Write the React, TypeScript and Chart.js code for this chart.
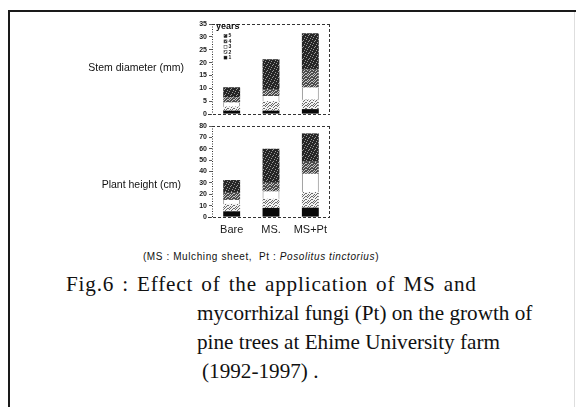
import React, { useEffect, useRef } from 'react';
import { Chart, registerables } from 'chart.js';

Chart.register(...registerables);

// ---------- data ----------
const categories = ['Bare', 'MS.', 'MS+Pt'];
const yearLabels = ['1', '2', '3', '4', '5'];
const legendTitle = 'years';

// Stem diameter (mm), yearly increments per treatment
const stemY1 = [1.3, 1.3, 1.9];
const stemY2 = [1.6, 3.7, 3.7];
const stemY3 = [1.6, 2.0, 4.7];
const stemY4 = [2.0, 2.7, 6.9];
const stemY5 = [3.9, 11.6, 14.2];
const stemTicks = [0, 5, 10, 15, 20, 25, 30, 35];

// Plant height (cm), yearly increments per treatment
const heightY1 = [5.0, 8.0, 8.2];
const heightY2 = [6.5, 8.0, 13.8];
const heightY3 = [3.5, 6.5, 16.0];
const heightY4 = [7.0, 7.5, 10.5];
const heightY5 = [10.5, 30.0, 25.0];
const heightTicks = [0, 10, 20, 30, 40, 50, 60, 70, 80];

const stemTitle = 'Stem diameter (mm)';
const heightTitle = 'Plant height (cm)';

// ---------- helpers ----------
function makePattern(bg: string, fg: string, size: number, dots: number[][]) {
  const c = document.createElement('canvas');
  c.width = size;
  c.height = size;
  const g = c.getContext('2d')!;
  g.fillStyle = bg;
  g.fillRect(0, 0, size, size);
  g.fillStyle = fg;
  dots.forEach(([x, y]) => g.fillRect(x, y, 1, 1));
  return g.createPattern(c, 'repeat')!;
}

// irregular stipple layouts (fixed, hand-placed)
const stippleSparse = [[0, 0], [3, 1], [5, 3], [1, 4], [4, 5], [2, 2]];
const stippleDense = [
  [0, 0], [2, 0], [5, 0], [1, 1], [4, 1], [3, 2], [0, 3], [5, 3], [2, 4], [4, 4], [1, 5], [3, 5],
];

function yearFills() {
  return [
    '#0a0a0a',
    makePattern('#f2f2f2', '#6a6a6a', 6, stippleDense),
    '#ffffff',
    makePattern('#4c4c4c', '#c4c4c4', 6, stippleDense),
    makePattern('#262626', '#9a9a9a', 6, stippleSparse),
  ];
}

const frameDash = {
  id: 'frameDash',
  afterDraw(chart: any) {
    const { ctx, chartArea: a } = chart;
    ctx.save();
    ctx.strokeStyle = '#333';
    ctx.lineWidth = 1;
    ctx.setLineDash([3, 2]);
    ctx.beginPath();
    ctx.moveTo(a.left, a.top + 0.5);
    ctx.lineTo(a.right, a.top + 0.5);
    ctx.moveTo(a.right - 0.5, a.top);
    ctx.lineTo(a.right - 0.5, a.bottom);
    ctx.moveTo(a.left - 4, a.bottom + 0.5);
    ctx.lineTo(a.right, a.bottom + 0.5);
    ctx.stroke();
    ctx.setLineDash([1, 1.5]);
    ctx.beginPath();
    ctx.moveTo(a.left + 0.5, a.top);
    ctx.lineTo(a.left + 0.5, a.bottom);
    ctx.stroke();
    ctx.restore();
  },
};

const yearsLegend = {
  id: 'yearsLegend',
  afterDraw(chart: any) {
    const { ctx, chartArea: a } = chart;
    const ds = chart.data.datasets;
    ctx.save();
    ctx.fillStyle = '#111';
    ctx.textBaseline = 'middle';
    ctx.font = 'bold 9px "Liberation Sans"';
    ctx.fillText(legendTitle, a.left + 4, a.top + 3);
    ctx.font = 'bold 5px "Liberation Sans"';
    for (let i = ds.length - 1, r = 0; i >= 0; i--, r++) {
      const y = a.top + 12 + r * 5.4;
      ctx.fillStyle = ds[i].backgroundColor;
      ctx.fillRect(a.left + 12, y - 1.5, 3, 3);
      ctx.strokeStyle = '#333';
      ctx.lineWidth = 0.5;
      ctx.strokeRect(a.left + 12, y - 1.5, 3, 3);
      ctx.fillStyle = '#111';
      ctx.fillText(ds[i].label, a.left + 16.5, y);
    }
    ctx.restore();
  },
};

function buildConfig(
  series: number[][],
  ticks: number[],
  showX: boolean,
  padTop: number,
  xHeight: number,
  withLegend: boolean
): any {
  const fills = yearFills();
  return {
    type: 'bar',
    data: {
      labels: categories,
      datasets: series.map((vals, i) => ({
        label: yearLabels[i],
        data: vals,
        backgroundColor: fills[i],
        borderColor: '#888',
        borderWidth: i === 2 ? { left: 1, right: 1, top: 0, bottom: 0 } : 0,
        borderSkipped: false,
        barPercentage: 0.43,
        categoryPercentage: 1,
      })),
    },
    options: {
      animation: false,
      responsive: false,
      maintainAspectRatio: false,
      layout: { padding: { top: padTop, right: 5, left: 0, bottom: 0 } },
      plugins: { legend: { display: false }, tooltip: { enabled: false } },
      scales: {
        x: {
          stacked: true,
          grid: { display: false, drawTicks: false },
          border: { display: false },
          ticks: {
            display: showX,
            padding: 6,
            color: '#1a1a1a',
            font: { family: '"Liberation Sans"', size: 11 },
          },
          afterFit: (s: any) => {
            s.height = xHeight;
          },
        },
        y: {
          stacked: true,
          min: ticks[0],
          max: ticks[ticks.length - 1],
          afterBuildTicks: (s: any) => {
            s.ticks = ticks.map((v) => ({ value: v }));
          },
          grid: {
            display: true,
            drawOnChartArea: false,
            drawTicks: true,
            tickLength: 3,
            color: '#333',
            lineWidth: 0.8,
          },
          border: { display: false },
          ticks: {
            autoSkip: false,
            padding: 2,
            color: '#1a1a1a',
            font: { family: '"Liberation Sans"', size: 7, weight: 'bold' },
          },
          afterFit: (s: any) => {
            s.width = 62;
          },
        },
      },
    },
    plugins: withLegend ? [frameDash, yearsLegend] : [frameDash],
  };
}

export default function App() {
  const topRef = useRef<HTMLCanvasElement>(null);
  const botRef = useRef<HTMLCanvasElement>(null);

  useEffect(() => {
    const top = new Chart(
      topRef.current!,
      buildConfig([stemY1, stemY2, stemY3, stemY4, stemY5], stemTicks, false, 9, 11, true)
    );
    const bot = new Chart(
      botRef.current!,
      buildConfig([heightY1, heightY2, heightY3, heightY4, heightY5], heightTicks, true, 8, 26, false)
    );
    return () => {
      top.destroy();
      bot.destroy();
    };
  }, []);

  const sans = '"Liberation Sans", Arial, sans-serif';
  const serif = '"Liberation Serif", "Times New Roman", serif';
  const figFont = `21.2px ${serif}`;

  return (
    <div
      style={{
        position: 'absolute',
        left: 0,
        top: 0,
        width: 576,
        height: 407,
        background: '#fff',
        overflow: 'hidden',
      }}
    >
      {/* outer frame */}
      <div style={{ position: 'absolute', left: 9, top: 10, width: 567, height: 2, background: '#1a1a1a' }} />
      <div style={{ position: 'absolute', left: 8, top: 10, width: 2, height: 397, background: '#1a1a1a' }} />
      <div style={{ position: 'absolute', left: 574, top: 12, width: 1, height: 395, background: '#dedede' }} />

      <canvas
        ref={topRef}
        width={185}
        height={110}
        style={{ position: 'absolute', left: 150, top: 15, width: 185, height: 110 }}
      />
      <canvas
        ref={botRef}
        width={185}
        height={125}
        style={{ position: 'absolute', left: 150, top: 118, width: 185, height: 125 }}
      />

      <div
        style={{
          position: 'absolute',
          right: 576 - 184,
          top: 61,
          font: `10.5px ${sans}`,
          lineHeight: '12px',
          color: '#111',
          whiteSpace: 'nowrap',
        }}
      >
        {stemTitle}
      </div>
      <div
        style={{
          position: 'absolute',
          right: 576 - 181,
          top: 178,
          font: `10.5px ${sans}`,
          lineHeight: '12px',
          color: '#111',
          whiteSpace: 'nowrap',
        }}
      >
        {heightTitle}
      </div>

      <div
        style={{
          position: 'absolute',
          left: 111,
          width: 300,
          top: 251,
          font: `10px ${sans}`,
          letterSpacing: '0.6px',
          lineHeight: '12px',
          color: '#111',
          textAlign: 'center',
          whiteSpace: 'nowrap',
        }}
      >
        (MS : Mulching sheet,&nbsp; Pt : <i>Posolitus tinctorius</i>)
      </div>

      <div style={{ position: 'absolute', left: 0, top: 270, font: figFont, lineHeight: '29px', color: '#111', whiteSpace: 'nowrap' }}>
        <div style={{ position: 'relative', height: 29 }}>
          <span style={{ position: 'absolute', left: 66, letterSpacing: '0.8px', wordSpacing: '2px' }}>
            Fig.6 : Effect of the application of MS and
          </span>
        </div>
        <div style={{ position: 'relative', height: 29 }}>
          <span style={{ position: 'absolute', left: 197 }}>mycorrhizal fungi (Pt) on the growth of</span>
        </div>
        <div style={{ position: 'relative', height: 29 }}>
          <span style={{ position: 'absolute', left: 197 }}>pine trees at Ehime University farm</span>
        </div>
        <div style={{ position: 'relative', height: 29 }}>
          <span style={{ position: 'absolute', left: 202 }}>(1992-1997) .</span>
        </div>
      </div>
    </div>
  );
}
